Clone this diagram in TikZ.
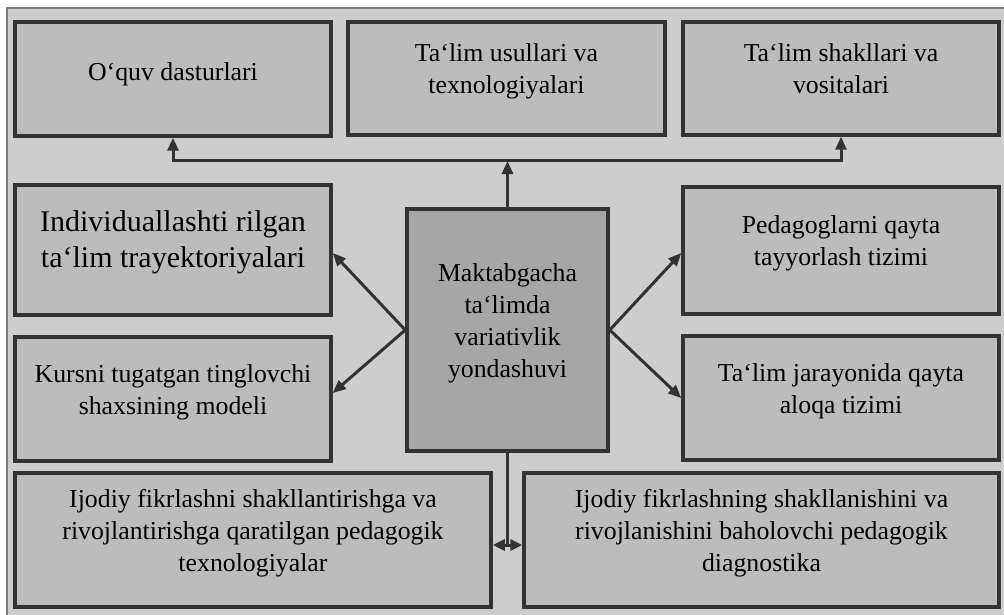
\documentclass[tikz,border=0pt]{standalone}
\usepackage{fontspec}
\setmainfont{Liberation Serif}
\usetikzlibrary{arrows.meta}
\definecolor{bgfill}{HTML}{CDCDCD}
\definecolor{boxfill}{HTML}{BCBCBC}
\definecolor{centerfill}{HTML}{A6A6A6}
\definecolor{ink}{HTML}{333333}
\definecolor{framecol}{HTML}{7A7A7A}
\newcommand\btext[2][7pt]{\raisebox{#1}[\height][\depth]{\begin{tabular}{@{}c@{}}#2\end{tabular}}}
\tikzset{
  box/.style={draw=ink, line width=3.5pt, fill=boxfill, rectangle, inner sep=0pt,
    font=\fontsize{25.8}{32}\selectfont},
  bigbox/.style={box, font=\fontsize{30}{36}\selectfont},
  centerbox/.style={box, fill=centerfill},
  conn/.style={draw=ink, line width=3pt},
  arr/.style={conn, -{Triangle[length=13pt,width=11pt]}},
  darr/.style={conn, {Triangle[length=13pt,width=11pt]}-{Triangle[length=13pt,width=11pt]}},
  sdarr/.style={conn, {Triangle[length=12pt,width=11pt]}-{Triangle[length=12pt,width=11pt]}}
}
\begin{document}
\begin{tikzpicture}[x=1pt,y=-1pt]
\useasboundingbox (0,0) rectangle (1004,615);
\fill[white] (0,0) rectangle (1004,615);
\draw[framecol, fill=bgfill, line width=1.5pt] (7,8) rectangle (1012,622);
% top row
\node[box, minimum width=316pt, minimum height=114pt] (b1) at (173,79) {\btext[5pt]{O‘quv dasturlari}};
\node[box, minimum width=317pt, minimum height=113pt] (b2) at (506.5,78.5) {\btext{Ta‘lim usullari va\\texnologiyalari}};
\node[box, minimum width=316pt, minimum height=113pt] (b3) at (841,78.5) {\btext{Ta‘lim shakllari va\\vositalari}};
% middle rows
\node[bigbox, minimum width=316pt, minimum height=130pt] (l1) at (173,250) {\btext[8pt]{Individuallashti rilgan\\ta‘lim trayektoriyalari}};
\node[box, minimum width=316pt, minimum height=124pt] (l2) at (173,399) {\btext{Kursni tugatgan tinglovchi\\shaxsining modeli}};
\node[box, minimum width=316pt, minimum height=127pt] (r1) at (841,250.5) {\btext{Pedagoglarni qayta\\tayyorlash tizimi}};
\node[box, minimum width=316pt, minimum height=124pt] (r2) at (841,398) {\btext{Ta‘lim jarayonida qayta\\aloqa tizimi}};
% center
\node[centerbox, minimum width=201pt, minimum height=242pt] (c) at (507.5,330) {\btext[7pt]{Maktabgacha\\ta‘limda\\variativlik\\yondashuvi}};
% bottom row
\node[box, minimum width=476pt, minimum height=134pt] (bl) at (253,540) {\btext[7pt]{Ijodiy fikrlashni shakllantirishga va\\rivojlantirishga qaratilgan pedagogik\\texnologiyalar}};
\node[box, minimum width=475pt, minimum height=134pt] (br) at (761.5,540) {\btext[7pt]{Ijodiy fikrlashning shakllanishini va\\rivojlanishini baholovchi pedagogik\\diagnostika}};
% connectors
\coordinate (hl) at (173,161);
\coordinate (hr) at (841,161);
\coordinate (mid) at (507,545);
\draw[arr] (c.north) -- (c.north |- hl);
\draw[darr] (b1.south) -- (hl) -- (hr) -- (b3.south);
\draw[arr] (c.west) -- ([yshift=-3pt]l1.east);
\draw[arr] (c.west) -- ([yshift=6pt]l2.east);
\draw[arr] (c.east) -- ([yshift=-2.5pt]r1.west);
\draw[arr] (c.east) -- (r2.west);
\draw[conn] (c.south) -- (c.south |- mid);
\draw[sdarr] (bl.east |- mid) -- (br.west |- mid);
\end{tikzpicture}
\end{document}
